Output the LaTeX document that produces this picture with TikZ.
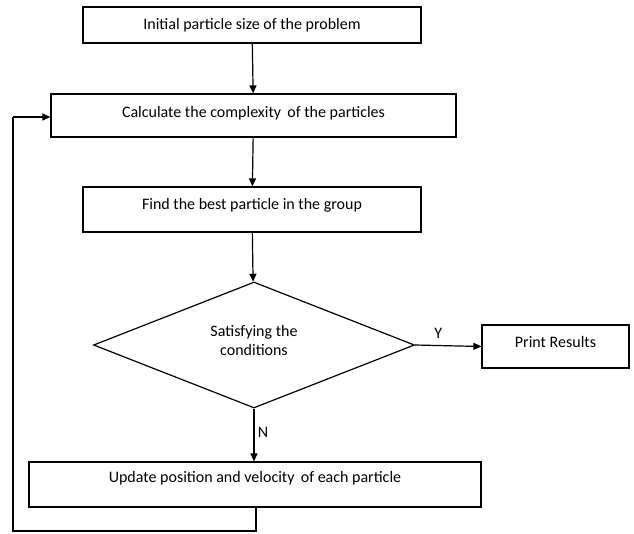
\documentclass[tikz,border=0pt]{standalone}
\usepackage{fontspec}
\setmainfont{Carlito}
\usetikzlibrary{shapes.geometric,arrows.meta}
\begin{document}
\begin{tikzpicture}[x=1pt,y=-1pt,
  every node/.style={font=\fontsize{16}{18}\selectfont},
  procbox/.style={draw, line width=1.2pt, rectangle, inner sep=0pt, align=center},
  decision/.style={draw, line width=1.2pt, diamond, inner sep=0pt},
  flow/.style={line width=1.2pt, -{Triangle[length=8pt,width=7pt]}},
  plain/.style={line width=1.2pt}]
\useasboundingbox (0,0) rectangle (634,533);

\node[procbox, minimum width=338pt, minimum height=36pt] (init) at (252,25)
  {\raisebox{2pt}{Initial particle size of the problem}};
\node[procbox, minimum width=405pt, minimum height=43pt] (calc) at (253.5,115.5)
  {\raisebox{7pt}{Calculate the complexity\, of the particles}};
\node[procbox, minimum width=338pt, minimum height=45pt] (best) at (252,209.5)
  {\raisebox{12pt}{Find the best particle in the group}};
\node[decision, minimum width=321pt, minimum height=126pt] (cond) at (254,345) {};
\node[align=center, inner sep=0pt] (condtext) at (254,340)
  {Satisfying the\\[1pt] conditions};
\node[procbox, minimum width=147pt, minimum height=43pt] (print) at (555.5,346.5)
  {\raisebox{10pt}{Print Results}};
\node[procbox, minimum width=452pt, minimum height=45pt] (update) at (255,484.5)
  {\raisebox{15pt}{Update position and velocity\, of each particle}};

\coordinate (loopA) at (256,531);
\coordinate (loopB) at (13,531);
\coordinate (loopC) at (13,117);

\draw[flow] (init) -- (calc);
\draw[flow] (calc) -- (best);
\draw[flow] (best) -- (cond);
\draw[flow] (cond.east) -- node[above=3pt, pos=0.35] (ylab) {Y} (print.west);
\draw[flow] (cond.south) -- node[right=0pt, pos=0.45] (nlab) {N} (update.north -| cond.south);
\draw[plain] (update.south -| loopA) -- (loopA) -- (loopB) -- (loopC);
\draw[flow] (loopC) -- (loopC -| calc.west);
\end{tikzpicture}
\end{document}
